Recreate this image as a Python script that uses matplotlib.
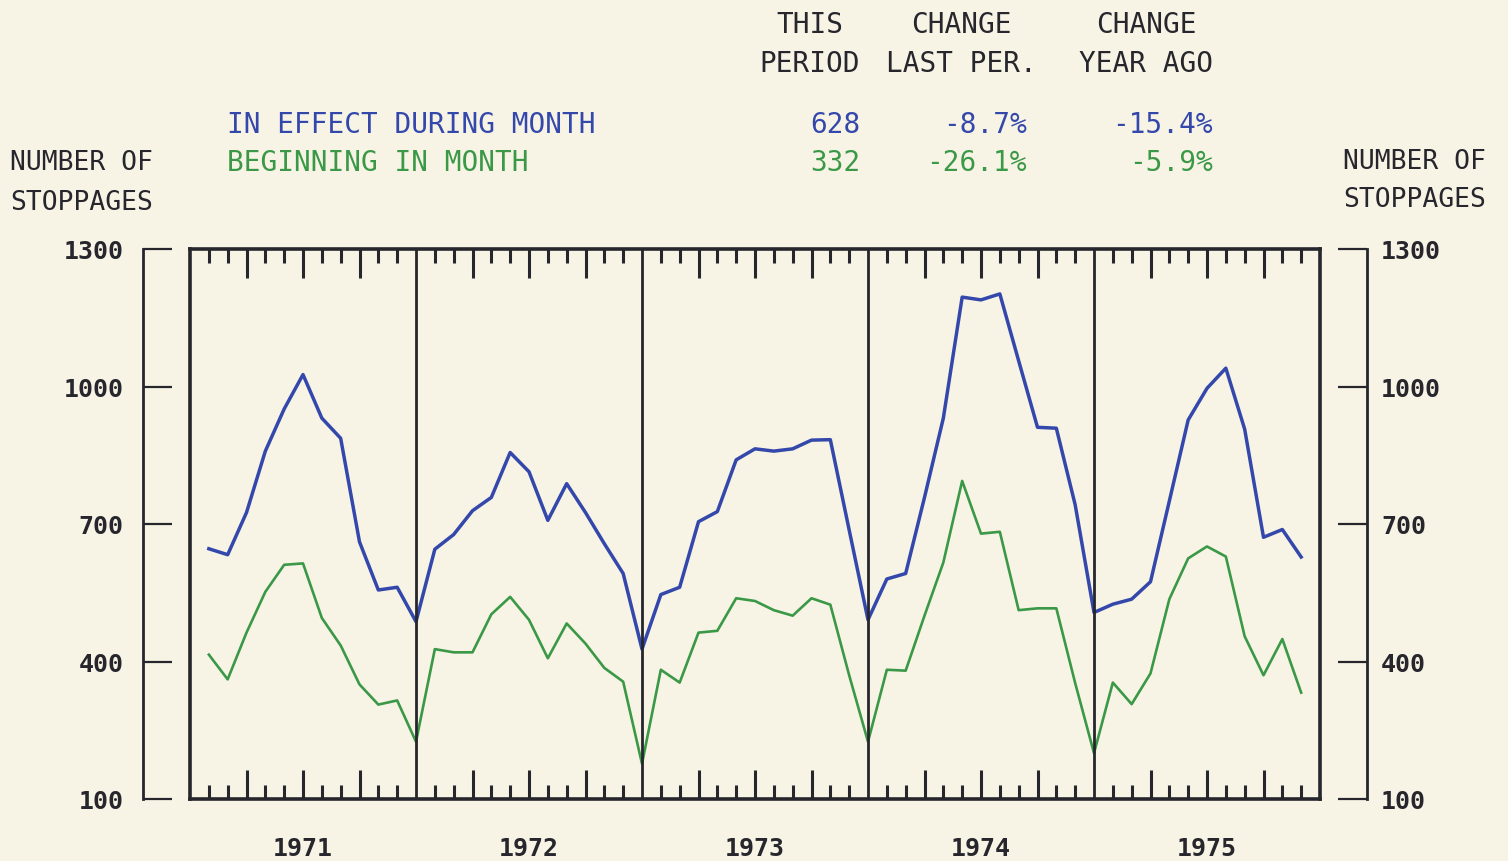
import numpy as np
import matplotlib
matplotlib.use("Agg")
import matplotlib.pyplot as plt

# monthly work stoppages, Jan 1971 - Nov 1975
years = ["1971", "1972", "1973", "1974", "1975"]
in_effect = [
    646, 633, 725, 859, 951, 1026, 931, 887, 661, 556, 562, 487,
    645, 677, 729, 758, 856, 814, 708, 788, 725, 657, 592, 427,
    546, 562, 705, 727, 840, 864, 859, 864, 883, 884, 687, 491,
    580, 592, 758, 931, 1195, 1189, 1202, 1056, 911, 909, 742, 507,
    525, 536, 574, 750, 927, 996, 1040, 907, 671, 688, 628,
]
beginning = [
    415, 361, 463, 552, 611, 614, 495, 435, 350, 306, 315, 225,
    427, 420, 420, 503, 541, 491, 407, 483, 439, 386, 356, 177,
    382, 354, 463, 467, 538, 532, 512, 500, 538, 524, 370, 225,
    382, 380, 500, 616, 794, 679, 683, 512, 516, 516, 353, 200,
    354, 307, 374, 536, 625, 651, 629, 455, 370, 449, 332,
]
y_ticks = [100, 400, 700, 1000, 1300]
header_cols = [("THIS", "PERIOD"), ("CHANGE", "LAST PER."), ("CHANGE", "YEAR AGO")]
row_labels = ["IN EFFECT DURING MONTH", "BEGINNING IN MONTH"]
row_values = [["628", "-8.7%", "-15.4%"], ["332", "-26.1%", "-5.9%"]]

BG = "#f7f4e6"
INK = "#26262c"
BLUE = "#3448ab"
GREEN = "#3a9846"
FONT = "DejaVu Sans Mono"

W, H = 1508, 862
fig = plt.figure(figsize=(W / 100, H / 100), dpi=100, facecolor=BG)

def px(x0, y0, x1, y1):
    return [x0 / W, 1 - y1 / H, (x1 - x0) / W, (y1 - y0) / H]

ax = fig.add_axes(px(190, 250, 1320, 800))
ax.set_facecolor(BG)
n_months = 12 * len(years)
ax.set_xlim(0, n_months)
ax.set_ylim(100, 1300)

months = np.arange(1, len(in_effect) + 1)
ax.plot(months, in_effect, color=BLUE, lw=2.5, solid_joinstyle="round")
ax.plot(months, beginning, color=GREEN, lw=1.9, solid_joinstyle="round")

for b in range(12, n_months, 12):
    ax.axvline(b, color=INK, lw=2.0)

for s in ax.spines.values():
    s.set_color(INK)
    s.set_linewidth(2.6)

major = [m for m in range(n_months) if m % 3 == 0 and m % 12 != 0]
minor = [m for m in range(n_months) if m % 3 != 0]
ax.set_xticks(major)
ax.set_xticks(minor, minor=True)
ax.set_yticks([])
ax.tick_params(axis="x", which="major", direction="in", top=True, bottom=True,
               length=21, width=2.2, color=INK, labelbottom=False)
ax.tick_params(axis="x", which="minor", direction="in", top=True, bottom=True,
               length=10, width=2.2, color=INK)

for i, yr in enumerate(years):
    ax.text(12 * i + 6, -0.09, yr, transform=ax.get_xaxis_transform(),
            ha="center", va="center", fontsize=18, family=FONT,
            weight="bold", color=INK)

# separate left and right value scales
def side_axis(x, side):
    a = fig.add_axes(px(x, 250, x + 1, 800))
    a.patch.set_alpha(0)
    a.set_ylim(100, 1300)
    a.set_xticks([])
    for k, s in a.spines.items():
        s.set_visible(k == side)
        s.set_color(INK)
        s.set_linewidth(2.0)
    a.set_yticks(y_ticks)
    a.tick_params(axis="y", direction="in", length=21, width=1.6, color=INK,
                  labelsize=18, labelcolor=INK, pad=14 if side == "left" else 10,
                  left=(side == "left"), labelleft=(side == "left"),
                  right=(side == "right"), labelright=(side == "right"))
    for t in a.get_yticklabels():
        t.set_family(FONT)
        t.set_weight("bold")
    return a

side_axis(143, "left")
side_axis(1366, "right")

def ftext(x, y, s, color=INK, ha="left", size=20):
    fig.text(x / W, 1 - y / H, s, ha=ha, va="center", fontsize=size,
             family=FONT, color=color)

ftext(10, 163, "NUMBER OF", size=19)
ftext(10, 203, "STOPPAGES", size=19)
ftext(1343, 162, "NUMBER OF", size=19)
ftext(1343, 200, "STOPPAGES", size=19)

col_centers = [810, 961, 1146]
col_rights = [860, 1027, 1213]
for cx, (top, bottom) in zip(col_centers, header_cols):
    ftext(cx, 25, top, ha="center")
    ftext(cx, 64, bottom, ha="center")

for label, vals, color, y in zip(row_labels, row_values, [BLUE, GREEN], [125, 163]):
    ftext(227, y, label, color=color)
    for rx, v in zip(col_rights, vals):
        ftext(rx, y, v, color=color, ha="right")

fig.savefig("out.png", dpi=100, facecolor=BG)
